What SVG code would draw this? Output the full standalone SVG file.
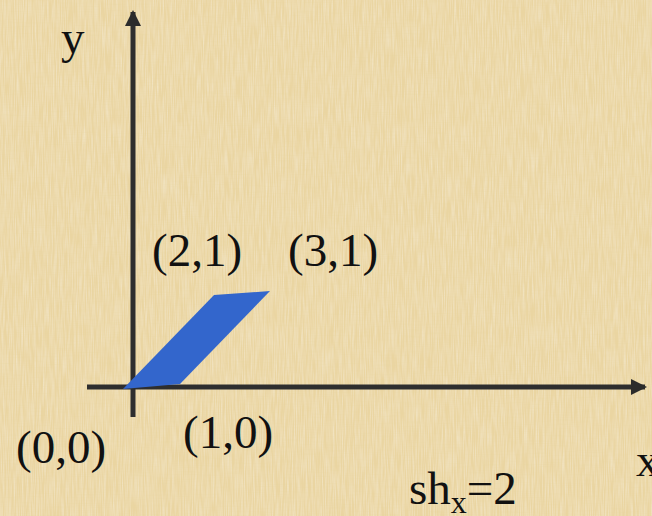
<svg xmlns="http://www.w3.org/2000/svg" width="652" height="516" viewBox="0 0 652 516">
  <defs>
    <filter id="paper" x="0" y="0" width="100%" height="100%">
      <feTurbulence type="fractalNoise" baseFrequency="0.9 0.04" numOctaves="2" seed="3" result="n1"/>
      <feColorMatrix in="n1" type="matrix" values="0 0 0 0 1  0 0 0 0 0.97  0 0 0 0 0.86  0 0 0 0.6 -0.2" result="c1"/>
      <feTurbulence type="fractalNoise" baseFrequency="0.04 0.9" numOctaves="2" seed="7" result="n2"/>
      <feColorMatrix in="n2" type="matrix" values="0 0 0 0 0.78  0 0 0 0 0.65  0 0 0 0 0.32  0 0 0 0.45 -0.2" result="c2"/>
      <feMerge><feMergeNode in="SourceGraphic"/><feMergeNode in="c1"/><feMergeNode in="c2"/></feMerge>
    </filter>
    <marker id="arrow" viewBox="0 0 16 16" refX="14" refY="8" markerWidth="16" markerHeight="16" markerUnits="userSpaceOnUse" orient="auto">
      <path d="M0,0 L16,8 L0,16 Z" fill="#2b2b2b"/>
    </marker>
    <style>
      .axis { stroke: #2e2e2e; stroke-width: 5; fill: none; }
      .lbl { font-family: "Liberation Serif", "Times New Roman", serif; font-size: 47px; fill: #111; }
      .sub { font-size: 32px; }
    </style>
  </defs>

  <rect id="background" x="0" y="0" width="652" height="516" fill="#EAD5A2" filter="url(#paper)"/>

  <g id="connectors">
    <line class="axis" x1="133" y1="417" x2="133" y2="12" marker-end="url(#arrow)"/>
    <line class="axis" x1="87" y1="387" x2="645" y2="387" marker-end="url(#arrow)"/>
  </g>

  <g id="shape">
    <polygon points="123,389 180,384 270,291 214,295" fill="#3366CC"/>
  </g>

  <g id="labels">
    <text class="lbl" x="61" y="53">y</text>
    <text class="lbl" x="152" y="266">(2,1)</text>
    <text class="lbl" x="288" y="266">(3,1)</text>
    <text class="lbl" x="16" y="463">(0,0)</text>
    <text class="lbl" x="183" y="448">(1,0)</text>
    <text class="lbl" x="636" y="476">x</text>
    <text class="lbl" x="409" y="504">sh<tspan class="sub" dy="9">x</tspan><tspan dy="-9">=2</tspan></text>
  </g>
</svg>
